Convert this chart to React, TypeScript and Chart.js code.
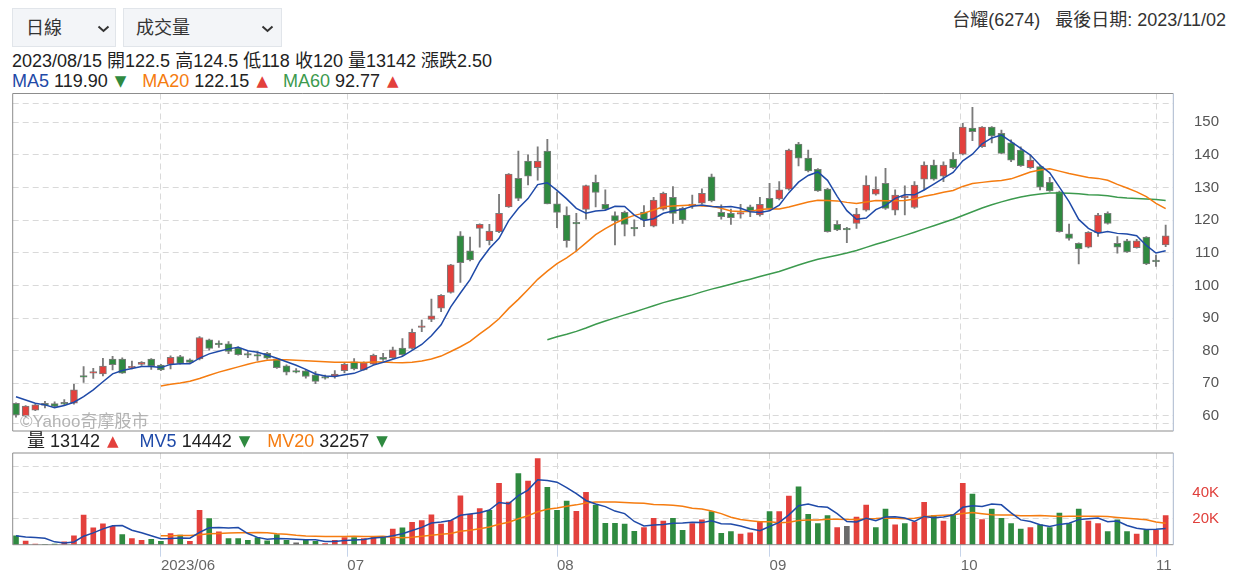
import React, { useEffect, useRef } from 'react';
import { Chart, registerables } from 'chart.js';

Chart.register(...registerables);

const FONT = "'Liberation Sans', Arial, 'Noto Sans CJK TC', sans-serif";

// ---- daily OHLC (visible window, 120 trading days ending 2023/11/02) ----
const opens = [63.9,60.0,61.8,63.9,63.8,64.2,63.9,72.3,73.2,72.9, 77.4,77.4,74.7,75.8,77.4,75.6,75.8,78.2,77.2,77.5, 83.3,82.3,82.1,80.8,79.0,78.7,79.2,77.5,75.4,73.9, 73.8,72.6,71.9,72.1,73.9,76.6,74.1,75.9,78.0,77.8, 80.8,80.7,87.2,89.6,93.0,97.9,115.2,110.6,117.5,113.7, 116.5,124.1,132.8,138.1,136.1,141.2,125.0,121.6,119.2,123.3, 131.6,124.9,121.4,122.4,117.6,122.5,118.2,123.4,127.0,123.6, 124.6,125.2,133.3,122.4,122.1,122.0,124.1,121.6,126.7,126.5, 129.5,143.3,139.0,135.6,129.5,118.7,117.5,119.0,123.1,128.0, 131.3,123.1,127.0,123.9,132.6,136.9,133.5,138.7,140.2,148.2, 142.5,148.5,146.6,143.7,141.5,136.1,136.4,131.6,128.7,115.8, 112.9,111.7,116.2,122.1,112.9,113.7,111.6,114.8,107.6,112.4];
const highs = [64.0,63.2,63.6,64.5,64.3,65.0,69.7,75.1,74.6,77.7, 78.3,77.8,76.8,76.7,77.6,75.8,78.4,78.6,77.5,84.3, 83.6,83.0,82.8,81.2,79.7,79.7,79.5,77.7,75.7,74.5, 74.2,73.6,72.5,73.9,76.2,77.6,76.6,79.0,79.2,81.1, 83.7,86.6,89.4,95.8,97.2,106.5,116.5,114.8,118.9,118.7, 127.9,134.3,141.2,140.0,142.5,144.8,128.7,124.1,122.1,130.8, 133.8,129.3,122.6,122.8,120.1,124.5,127.0,128.6,130.3,124.0, 127.7,129.6,134.1,124.7,123.4,124.9,124.6,127.0,131.3,131.8, 141.8,143.9,141.5,135.8,129.8,119.8,117.8,123.6,133.6,133.3, 135.9,129.3,130.5,131.8,137.9,138.4,137.9,140.7,149.7,154.6, 148.7,148.7,147.6,144.6,142.5,140.0,136.9,133.1,128.9,118.8, 113.1,116.5,122.1,122.6,115.0,114.1,114.1,115.0,109.3,118.5];
const lows = [59.6,59.8,61.6,62.5,62.6,63.4,63.6,70.3,71.5,72.3, 74.1,73.0,74.4,75.5,74.3,73.9,74.4,75.9,76.0,77.2, 80.2,81.0,79.1,78.6,77.9,77.0,77.4,74.6,72.6,73.2, 71.6,69.9,71.3,71.6,73.2,74.1,74.0,75.7,77.0,77.6, 78.5,80.5,85.8,88.9,92.0,97.6,100.9,107.5,111.7,112.4, 116.2,123.9,126.0,130.8,132.3,125.0,117.7,111.7,110.5,120.3, 124.1,123.2,112.4,115.2,115.2,118.0,117.9,123.1,119.0,119.0, 123.6,125.0,125.6,120.3,118.7,120.6,121.1,121.2,123.0,126.2, 129.2,136.6,134.8,128.8,116.3,116.8,113.1,117.5,122.8,127.7, 123.3,121.6,121.6,123.6,129.3,132.3,131.8,135.8,140.0,144.4, 142.3,143.7,140.3,137.9,136.5,135.9,129.3,128.8,116.3,113.9, 106.6,111.5,115.0,118.8,109.9,110.1,111.4,106.4,105.8,111.9];
const closes = [60.3,63.0,63.4,63.2,62.9,63.6,68.0,72.0,73.5,75.3, 75.7,73.1,75.2,76.4,75.3,74.1,78.0,76.1,76.4,84.0, 80.7,81.9,79.8,78.8,78.7,78.4,77.7,74.8,73.4,73.4, 72.1,70.6,71.7,72.8,75.8,74.4,76.3,78.6,77.3,80.3, 78.8,85.6,87.5,90.7,97.0,106.3,107.0,107.8,118.7,116.7, 122.1,134.1,126.7,133.5,138.1,125.0,122.4,113.7,119.0,130.6, 128.5,123.4,119.8,118.7,117.5,120.0,126.2,128.2,122.1,120.1, 124.8,128.2,125.9,121.1,120.8,122.2,122.9,124.9,123.6,129.3, 141.5,139.0,135.1,129.0,116.5,117.0,117.0,121.9,130.8,129.5, 123.6,127.7,127.3,130.8,136.9,132.6,136.9,136.1,148.5,147.1, 148.5,145.8,140.5,138.4,136.7,138.4,130.1,129.0,116.5,114.4, 111.2,116.3,121.6,119.0,111.7,110.3,113.7,106.6,107.4,115.2];
// volume in thousands of lots
const volumesK = [6.9,2.8,0.4,0.3,0.5,2.3,6.9,22.7,12.9,16.0, 14.2,7.8,4.7,3.4,4.1,2.6,8.6,7.3,2.6,26.5, 20.1,9.9,4.7,4.7,3.4,5.5,2.9,7.8,3.4,1.5, 3.6,2.6,0.8,3.4,5.5,5.5,4.7,6.5,6.0,12.0, 13.0,17.2,18.5,22.9,15.9,18.5,37.5,23.3,27.7,26.4, 47.2,32.8,54.7,49.0,66.2,44.1,26.4,33.6,25.6,40.3, 30.5,16.4,16.4,15.8,10.2,13.1,20.3,18.2,20.3,11.1, 16.2,19.1,25.5,8.8,10.1,8.1,9.1,17.3,25.5,25.5, 37.3,44.4,23.4,16.2,22.3,13.2,14.2,21.3,30.5,13.2, 27.4,15.2,16.2,17.3,32.6,22.3,18.2,23.4,47.2,39.0, 19.3,27.4,20.3,16.2,12.1,13.2,15.2,13.2,24.4,16.2, 27.4,18.2,16.2,10.1,19.1,10.1,8.1,11.1,11.1,22.3];
// the four sessions before the visible window (feed the moving averages)
const priorCloses = [68.0, 68.4, 65.7, 67.1];
const priorVolumesK = [7.3, 2.9, 3.3, 14.1];

// ---- axes ----
const monthTickPos = [15, 34.3, 56, 78, 97.8, 118];
const monthLabels = ['2023/06', '07', '08', '09', '10', '11'];
const priceTicks = [60, 70, 80, 90, 100, 110, 120, 130, 140, 150];
const priceExtraGrid = [57.8, 155.8];
const volumeTicksK = [20, 40, 60];
const volumeTickLabels = ['20K', '40K', ''];

const X_MIN = -0.34;
const X_MAX = 119.79;

const UP = '#e3403c';
const DOWN = '#2f8a40';
const FLAT = '#6a6a6a';
const EDGE = '#7b7b7b';
const GRID = '#d9d9d9';
const C_MA5 = '#1f4aa8';
const C_MA20 = '#f57c10';
const C_MA60 = '#3c9a4e';

function movingAverage(values: number[], prior: number[], n: number) {
  const all = [...prior, ...values];
  const out: { x: number; y: number }[] = [];
  values.forEach((_, i) => {
    const idx = i + prior.length;
    if (idx + 1 < n) return;
    let s = 0;
    for (let k = idx - n + 1; k <= idx; k++) s += all[k];
    out.push({ x: i, y: s / n });
  });
  return out;
}

const framePlugin = {
  id: 'frame',
  afterDatasetsDraw(chart: any) {
    const { ctx, chartArea: a } = chart;
    ctx.save();
    ctx.lineWidth = 1;
    ctx.strokeStyle = '#8d8d8d';
    ctx.beginPath();
    ctx.moveTo(a.right, a.top);
    ctx.lineTo(a.left, a.top);
    ctx.lineTo(a.left, a.bottom);
    ctx.lineTo(a.right, a.bottom);
    ctx.stroke();
    ctx.strokeStyle = '#a9b7cd';
    ctx.beginPath();
    ctx.moveTo(a.right, a.top);
    ctx.lineTo(a.right, a.bottom);
    ctx.stroke();
    ctx.restore();
  },
};

const monthAxisTicks = (s: any) => {
  s.ticks = monthTickPos.map((v) => ({ value: v }));
};
const noPad = (s: any) => {
  s.paddingTop = 0;
  s.paddingBottom = 0;
  s.paddingLeft = 0;
  s.paddingRight = 0;
};

function Tri({ up }: { up: boolean }) {
  return (
    <span style={{ color: up ? UP : DOWN, fontSize: 15, marginLeft: 2, fontFamily: "'DejaVu Sans', sans-serif", position: 'relative', top: -1 }}>
      {up ? '▲' : '▼'}
    </span>
  );
}

function Chevron({ left }: { left: number }) {
  return (
    <svg width="13" height="8" style={{ position: 'absolute', left, top: 16 }}>
      <polyline points="1.5,1.5 6.5,6 11.5,1.5" fill="none" stroke="#333" strokeWidth="2" />
    </svg>
  );
}

export default function App() {
  const mainRef = useRef<HTMLCanvasElement>(null);
  const volRef = useRef<HTMLCanvasElement>(null);

  useEffect(() => {
    const idx = closes.map((_, i) => i);
    const bodyData = idx.map((i) => {
      let lo = Math.min(opens[i], closes[i]);
      let hi = Math.max(opens[i], closes[i]);
      if (hi - lo < 0.5) {
        const m = (hi + lo) / 2;
        lo = m - 0.25;
        hi = m + 0.25;
      }
      return { x: i, y: [lo, hi] };
    });
    const bodyColors = idx.map((i) => (closes[i] > opens[i] ? UP : closes[i] < opens[i] ? DOWN : FLAT));
    const wickData = idx.map((i) => ({ x: i, y: [lows[i], highs[i]] }));

    const prevClose = (i: number) => (i === 0 ? priorCloses[priorCloses.length - 1] : closes[i - 1]);
    const volColors = idx.map((i) => (closes[i] > prevClose(i) ? UP : closes[i] < prevClose(i) ? DOWN : FLAT));
    const volData = idx.map((i) => ({ x: i, y: volumesK[i] }));

    const lineDs = (data: any[], color: string) => ({
      type: 'line' as const,
      data,
      borderColor: color,
      borderWidth: 1.5,
      pointRadius: 0,
      tension: 0,
      order: 0,
    });

    const tickFont = { family: FONT, size: 15 };

    const xCommon = {
      type: 'linear',
      min: X_MIN,
      max: X_MAX,
      offset: false,
      afterBuildTicks: monthAxisTicks,
    };

    const main = new Chart(mainRef.current!, {
      type: 'bar',
      data: {
        datasets: [
          lineDs(movingAverage(closes, priorCloses, 5), C_MA5),
          lineDs(movingAverage(closes, priorCloses, 20), C_MA20),
          lineDs(movingAverage(closes, priorCloses, 60), C_MA60),
          {
            type: 'bar',
            data: bodyData as any,
            backgroundColor: bodyColors,
            borderColor: EDGE,
            borderWidth: 1,
            borderSkipped: false,
            barThickness: 7,
            grouped: false,
            order: 1,
          },
          {
            type: 'bar',
            data: wickData as any,
            backgroundColor: EDGE,
            borderWidth: 0,
            barThickness: 1.2,
            grouped: false,
            order: 2,
          },
        ],
      } as any,
      options: {
        responsive: false,
        animation: false,
        events: [],
        layout: { padding: { left: 12.7, top: 5.5, right: 15, bottom: 7 } },
        plugins: { legend: { display: false }, tooltip: { enabled: false } },
        scales: {
          x: {
            ...xCommon,
            afterFit: (s: any) => {
              s.height = 0;
              noPad(s);
            },
            ticks: { display: false },
            grid: { color: GRID, drawTicks: false, offset: false },
            border: { display: false, dash: [6, 4] },
          },
          y: {
            position: 'right',
            min: 55.39,
            max: 158.83,
            afterBuildTicks: (s: any) => {
              s.ticks = [...priceExtraGrid, ...priceTicks].sort((a, b) => a - b).map((v) => ({ value: v }));
            },
            afterFit: (s: any) => {
              s.width = 45.7;
              noPad(s);
            },
            ticks: {
              callback: (v: any) => (priceTicks.includes(v) ? String(v) : ''),
              crossAlign: 'far',
              padding: 0,
              color: '#555',
              font: tickFont,
            },
            grid: { color: GRID, drawTicks: false },
            border: { display: false, dash: [6, 4] },
          },
        },
      } as any,
      plugins: [framePlugin],
    });

    const vol = new Chart(volRef.current!, {
      type: 'bar',
      data: {
        datasets: [
          lineDs(movingAverage(volumesK, priorVolumesK, 5), C_MA5),
          lineDs(movingAverage(volumesK, priorVolumesK, 20), C_MA20),
          {
            type: 'bar',
            data: volData as any,
            backgroundColor: volColors,
            borderWidth: 0,
            barThickness: 5,
            grouped: false,
            order: 1,
          },
        ],
      } as any,
      options: {
        responsive: false,
        animation: false,
        events: [],
        layout: { padding: { left: 12.7, top: 5, right: 15, bottom: 0 } },
        plugins: { legend: { display: false }, tooltip: { enabled: false } },
        scales: {
          x: {
            ...xCommon,
            afterFit: (s: any) => {
              s.height = 35.3;
              noPad(s);
            },
            ticks: {
              callback: (_v: any, i: number) => monthLabels[i],
              align: 'start',
              autoSkip: false,
              maxRotation: 0,
              padding: 0,
              color: '#666',
              font: tickFont,
            },
            grid: { color: GRID, tickColor: '#c6d4ea', tickLength: 12, tickBorderDash: [], offset: false },
            border: { display: false, dash: [6, 4] },
          },
          y: {
            position: 'right',
            min: 0,
            max: 70.5,
            afterBuildTicks: (s: any) => {
              s.ticks = volumeTicksK.map((v) => ({ value: v }));
            },
            afterFit: (s: any) => {
              s.width = 45.7;
              noPad(s);
            },
            ticks: {
              callback: (_v: any, i: number) => volumeTickLabels[i],
              crossAlign: 'far',
              padding: 0,
              color: '#e0403c',
              font: tickFont,
            },
            grid: { color: GRID, drawTicks: false },
            border: { display: false, dash: [6, 4] },
          },
        },
      } as any,
      plugins: [framePlugin],
    });

    return () => {
      main.destroy();
      vol.destroy();
    };
  }, []);

  const textLine: React.CSSProperties = {
    position: 'absolute',
    fontSize: 18,
    lineHeight: '22px',
    color: '#222',
    whiteSpace: 'pre',
    fontFamily: FONT,
  };

  return (
    <div style={{ position: 'absolute', left: 0, top: 0, width: 1234, height: 580, background: '#fff', fontFamily: FONT, overflow: 'hidden' }}>
      <div style={{ position: 'absolute', left: 12, top: 8, width: 104, height: 39, boxSizing: 'border-box', background: '#f3f5f8', border: '1px solid #e1e5ea' }}>
        <div style={{ position: 'absolute', left: 13, top: 8, fontSize: 18, lineHeight: '22px', color: '#333' }}>日線</div>
        <Chevron left={84} />
      </div>
      <div style={{ position: 'absolute', left: 123, top: 8, width: 159, height: 39, boxSizing: 'border-box', background: '#f3f5f8', border: '1px solid #e1e5ea' }}>
        <div style={{ position: 'absolute', left: 12, top: 8, fontSize: 18, lineHeight: '22px', color: '#333' }}>成交量</div>
        <Chevron left={137} />
      </div>
      <div style={{ position: 'absolute', right: 8, top: 9, fontSize: 18, lineHeight: '22px', color: '#333', whiteSpace: 'pre' }}>
        台耀(6274)<span style={{ marginLeft: 15 }}>最後日期: 2023/11/02</span>
      </div>
      <div style={{ ...textLine, left: 12, top: 50 }}>2023/08/15 開122.5 高124.5 低118 收120 量13142 漲跌2.50</div>
      <div style={{ ...textLine, left: 12, top: 70 }}>
        <span style={{ color: C_MA5 }}>MA5</span> 119.90 <Tri up={false} />
        <span style={{ marginLeft: 16, color: C_MA20 }}>MA20</span> 122.15 <Tri up={true} />
        <span style={{ marginLeft: 15, color: C_MA60 }}>MA60</span> 92.77 <Tri up={true} />
      </div>
      <canvas ref={mainRef} width={1234} height={350} style={{ position: 'absolute', left: 0, top: 88, width: 1234, height: 350 }} />
      <div style={{ position: 'absolute', left: 20, top: 412, fontSize: 17, lineHeight: '20px', color: '#b3b3b3', whiteSpace: 'pre' }}>©Yahoo奇摩股市</div>
      <div style={{ ...textLine, left: 27, top: 430 }}>
        量 13142 <Tri up={true} />
        <span style={{ marginLeft: 21, color: C_MA5 }}>MV5</span> 14442 <Tri up={false} />
        <span style={{ marginLeft: 17, color: C_MA20 }}>MV20</span> 32257 <Tri up={false} />
      </div>
      <canvas ref={volRef} width={1234} height={132} style={{ position: 'absolute', left: 0, top: 448, width: 1234, height: 132 }} />
    </div>
  );
}
